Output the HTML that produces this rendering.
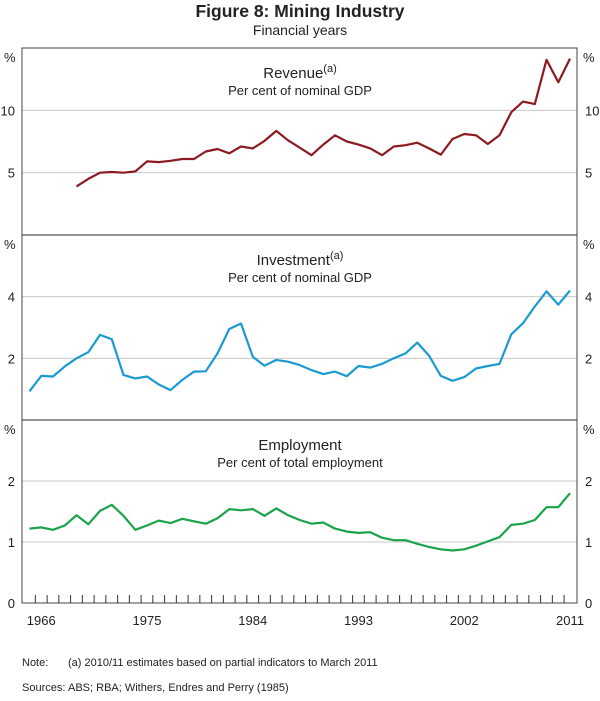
<!DOCTYPE html>
<html><head><meta charset="utf-8"><style>
body{margin:0;background:#fff;font-family:"Liberation Sans",Arial,sans-serif;}
svg text{font-family:"Liberation Sans",Arial,sans-serif;fill:#222;}
</style></head><body>
<svg id="c" width="600" height="696">
<text x="300" y="17" text-anchor="middle" font-size="17.5" font-weight="bold">Figure 8: Mining Industry</text>
<text x="300" y="35" text-anchor="middle" font-size="14">Financial years</text>
<text x="22" y="666" font-size="11" fill="#444">Note:</text>
<text x="68" y="666" font-size="11" fill="#444">(a) 2010/11 estimates based on partial indicators to March 2011</text>
<text x="22" y="691" font-size="11" fill="#444">Sources:</text>
<text x="68" y="691" font-size="11" fill="#444">ABS; RBA; Withers, Endres and Perry (1985)</text>
</svg>
<script>
const years=[];for(let y=1965;y<=2011;y++)years.push(y);
const revenue=[null,null,null,null,3.9,4.5,5.0,5.05,5.0,5.1,5.9,5.85,5.95,6.1,6.1,6.7,6.9,6.55,7.1,6.95,7.55,8.35,7.6,7.0,6.4,7.25,8.0,7.5,7.25,6.95,6.4,7.1,7.2,7.4,6.95,6.45,7.7,8.1,8.0,7.3,8.0,9.85,10.7,10.5,14.05,12.25,14.15];
const investment=[0.93,1.43,1.41,1.74,2.0,2.2,2.76,2.62,1.46,1.35,1.41,1.15,0.97,1.3,1.57,1.58,2.16,2.95,3.13,2.05,1.76,1.95,1.89,1.78,1.62,1.49,1.57,1.42,1.75,1.7,1.82,2.0,2.16,2.51,2.09,1.43,1.27,1.39,1.67,1.75,1.82,2.78,3.14,3.68,4.17,3.74,4.2];
const employment=[1.22,1.24,1.2,1.27,1.44,1.29,1.51,1.61,1.43,1.2,1.27,1.35,1.31,1.38,1.34,1.3,1.39,1.54,1.52,1.54,1.43,1.55,1.44,1.36,1.3,1.32,1.22,1.17,1.15,1.16,1.07,1.03,1.03,0.97,0.92,0.88,0.86,0.88,0.94,1.01,1.08,1.28,1.3,1.36,1.57,1.57,1.8];
const revTicks=[5,10];const invTicks=[2,4];const empTicks=[0,1,2];
const xLabels=[1966,1975,1984,1993,2002,2011];
const NS='http://www.w3.org/2000/svg';const svg=document.getElementById('c');
const L=22,R=577;
function xs(y){return 29.5+(y-1965)*(570-29.5)/46;}
function mk(t,a,txt){const e=document.createElementNS(NS,t);for(const k in a)e.setAttribute(k,a[k]);if(txt!=null)e.textContent=txt;svg.appendChild(e);return e;}
const panels=[
{top:48,bot:235,max:15,ticks:revTicks,data:revenue,color:'#8b1a22',t:'Revenue',sup:true,sub:'Per cent of nominal GDP',name:'revenue'},
{top:235,bot:420,max:6,ticks:invTicks,data:investment,color:'#1b9ad2',t:'Investment',sup:true,sub:'Per cent of nominal GDP',name:'investment'},
{top:420,bot:603,max:3,ticks:empTicks,data:employment,color:'#1aa34a',t:'Employment',sup:false,sub:'Per cent of total employment',name:'employment'}];
panels.forEach(p=>{
 const ys=v=>p.bot-v/p.max*(p.bot-p.top);
 p.ticks.forEach(v=>{
  if(v>0){const g=mk('line',{x1:L,x2:R,y1:ys(v),y2:ys(v),stroke:'#c8c8c8','stroke-width':1});
  
  }
  const a=mk('text',{x:15,y:ys(v)+5,'text-anchor':'end','font-size':13},v);
  
  
  const b=mk('text',{x:585,y:ys(v)+5,'font-size':13},v);
  
  
 });
 const u1=mk('text',{x:4,y:p.top+14,'font-size':13},'%');
 
 
 const u2=mk('text',{x:583,y:p.top+14,'font-size':13},'%');
 
 
 const tt=mk('text',{x:300,y:p.top+30,'text-anchor':'middle','font-size':15},null);
 tt.innerHTML=p.t+(p.sup?'<tspan font-size="11" dy="-6">(a)</tspan>':'');
 
 
 const st=mk('text',{x:300,y:p.top+47,'text-anchor':'middle','font-size':13},p.sub);
 
 
 let d='';p.data.forEach((v,i)=>{if(v==null)return;d+=(d?'L':'M')+xs(years[i]).toFixed(1)+','+ys(v).toFixed(1);});
 const ln=mk('path',{d:d,fill:'none',stroke:p.color,'stroke-width':2.2,'stroke-linejoin':'round'});
 
 
});
[235,420].forEach(y=>{const s=mk('line',{x1:L,x2:R,y1:y,y2:y,stroke:'#555','stroke-width':1.2});

});
const fr=mk('rect',{x:L,y:48,width:R-L,height:555,fill:'none',stroke:'#444','stroke-width':1});


for(let y=1966;y<=2011;y++){const x=xs(y)-5.9;const t=mk('line',{x1:x,x2:x,y1:603,y2:595,stroke:'#333','stroke-width':1});

}
xLabels.forEach(y=>{const t=mk('text',{x:xs(y),y:625,'text-anchor':'middle','font-size':13},y);

});
</script>
</body></html>
